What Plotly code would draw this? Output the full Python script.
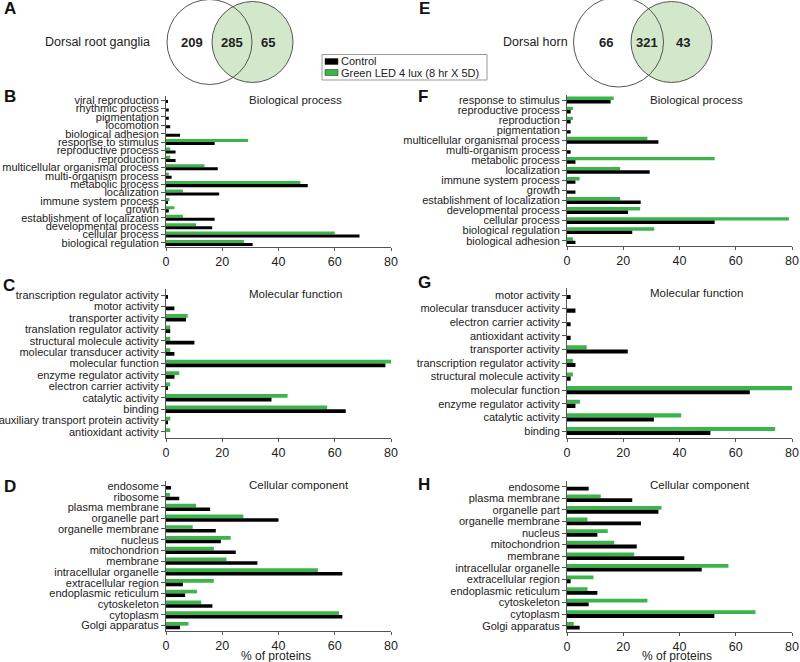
import plotly.graph_objects as go

# Размер картинки в пикселях
W, H = 800, 662

# Venn: только контроль, общие, только Green LED
drg_venn = [209, 285, 65]
dh_venn = [66, 321, 43]

series_names = ['Control', 'Green LED 4 lux (8 hr X 5D)']

# B - dorsal root ganglia, biological process (сверху вниз)
b_cats = ['viral reproduction', 'rhythmic process', 'pigmentation', 'locomotion',
          'biological adhesion', 'response to stimulus', 'reproductive process',
          'reproduction', 'multicellular organismal process', 'multi-organism process',
          'metabolic process', 'localization', 'immune system process', 'growth',
          'establishment of localization', 'developmental process', 'cellular process',
          'biological regulation']
b_control = [0.5, 1, 1, 1.5, 5, 17.3, 3.4, 3.4, 18.4, 2, 50.4, 18.9, 0.5, 1, 17.3, 16.4, 68.8, 30.8]
b_green = [0, 0, 0, 0, 0, 29.2, 1.5, 1.5, 13.7, 1, 47.8, 6, 1.2, 3, 6, 10.7, 60, 27.7]

# C - dorsal root ganglia, molecular function
c_cats = ['transcription regulator activity', 'motor activity', 'transporter activity',
          'translation regulator activity', 'structural molecule activity',
          'molecular transducer activity', 'molecular function', 'enzyme regulator activity',
          'electron carrier activity', 'catalytic activity', 'binding',
          'auxiliary transport protein activity', 'antioxidant activity']
c_control = [0.7, 3, 7.1, 1.5, 10.1, 3, 78, 3, 0.7, 37.5, 63.9, 0.4, 0]
c_green = [0, 0, 7.7, 1.5, 1.5, 1.5, 80, 4.7, 1.5, 43.2, 57.3, 1.5, 1.5]

# D - dorsal root ganglia, cellular component
d_cats = ['endosome', 'ribosome', 'plasma membrane', 'organelle part', 'organelle membrane',
          'nucleus', 'mitochondrion', 'membrane', 'intracellular organelle',
          'extracellular region', 'endoplasmic reticulum', 'cytoskeleton', 'cytoplasm',
          'Golgi apparatus']
d_control = [1.8, 4.7, 15.7, 40, 17.7, 19.5, 24.8, 32.5, 62.7, 6, 6.8, 16.5, 62.7, 5]
d_green = [0, 1.4, 10.7, 27.5, 9.5, 23, 17, 21.5, 54, 17, 11, 12.5, 61.5, 8]

# F - dorsal horn, biological process
f_cats = ['response to stimulus', 'reproductive process', 'reproduction', 'pigmentation',
          'multicellular organismal process', 'multi-organism process', 'metabolic process',
          'localization', 'immune system process', 'growth', 'establishment of localization',
          'developmental process', 'cellular process', 'biological regulation',
          'biological adhesion']
f_control = [15.5, 1.3, 1.3, 1.3, 32.5, 1.3, 3, 29.4, 3, 3, 26.2, 21.7, 52.5, 23.2, 3]
f_green = [16.6, 2.1, 2.1, 0, 28.6, 0, 52.5, 18.9, 4.5, 0, 18.9, 26, 78.9, 31, 2.1]

# G - dorsal horn, molecular function
g_cats = ['motor activity', 'molecular transducer activity', 'electron carrier activity',
          'antioxidant activity', 'transporter activity', 'transcription regulator activity',
          'structural molecule activity', 'molecular function', 'enzyme regulator activity',
          'catalytic activity', 'binding']
g_control = [1.3, 3, 1.3, 1.3, 21.6, 3, 1.3, 65, 3, 30.9, 51]
g_green = [0, 0, 0, 0, 7, 2.1, 2.1, 80, 4.6, 40.6, 74]

# H - dorsal horn, cellular component
h_cats = ['endosome', 'plasma membrane', 'organelle part', 'organelle membrane', 'nucleus',
          'mitochondrion', 'membrane', 'intracellular organelle', 'extracellular region',
          'endoplasmic reticulum', 'cytoskeleton', 'cytoplasm', 'Golgi apparatus']
h_control = [7.7, 23.2, 32.5, 26.3, 10.8, 24.8, 41.7, 47.9, 1.3, 10.8, 7.7, 52.4, 4.5]
h_green = [0, 12, 33.6, 7.3, 14.5, 16.8, 23.9, 57.4, 9.4, 7.3, 28.6, 67, 2.4]

x_ticks = [0, 20, 40, 60, 80]

GREEN = '#3BB54A'
BLACK = '#000000'
VENN_FILL = '#D3E8CB'
FONT = 'Liberation Sans, Arial, sans-serif'


def px(x):
    return x / W


def py(y):
    return 1 - y / H


# буква, заголовок, категории, контроль, green, x0, x1, верх, низ, ширина бара
panels = [
    ('B', 'Biological process', b_cats, b_control, b_green, 166, 391, 95.8, 247.2, 0.36),
    ('C', 'Molecular function', c_cats, c_control, c_green, 166, 391, 289.3, 437.7, 0.33),
    ('D', 'Cellular component', d_cats, d_control, d_green, 166, 391, 480.6, 631.0, 0.34),
    ('F', 'Biological process', f_cats, f_control, f_green, 567, 792, 95.0, 245.7, 0.34),
    ('G', 'Molecular function', g_cats, g_control, g_green, 567, 792, 288.2, 437.8, 0.3),
    ('H', 'Cellular component', h_cats, h_control, h_green, 567, 792, 480.9, 631.5, 0.33),
]

fig = go.Figure()
annotations = []
shapes = []
layout_axes = {}

for i, (letter, title, cats, ctrl, green, x0, x1, ytop, ybot, w) in enumerate(panels, start=1):
    xa = 'x' if i == 1 else f'x{i}'
    ya = 'y' if i == 1 else f'y{i}'
    # зелёный сверху, чёрный снизу (ось y перевёрнута)
    fig.add_trace(go.Bar(y=cats, x=green, orientation='h', xaxis=xa, yaxis=ya,
                         marker=dict(color=GREEN, line=dict(width=0)),
                         width=w, offset=-w, name=series_names[1], showlegend=False))
    fig.add_trace(go.Bar(y=cats, x=ctrl, orientation='h', xaxis=xa, yaxis=ya,
                         marker=dict(color=BLACK, line=dict(width=0)),
                         width=w, offset=0, name=series_names[0], showlegend=False))
    layout_axes['xaxis' if i == 1 else f'xaxis{i}'] = dict(
        domain=[px(x0), px(x1)], anchor=ya, range=[0, 80], tickmode='array',
        tickvals=x_ticks, ticks='outside', ticklen=3, tickcolor='#555', showline=True,
        linecolor='#555', linewidth=1, showgrid=False, zeroline=False, automargin=False,
        ticklabeloverflow='allow', tickfont=dict(size=12.5, color='#222', family=FONT))
    layout_axes['yaxis' if i == 1 else f'yaxis{i}'] = dict(
        domain=[py(ybot), py(ytop)], anchor=xa, type='category',
        categoryorder='array', categoryarray=cats, range=[len(cats) - 0.5, -0.5],
        tickmode='array', tickvals=cats, ticktext=cats,
        ticks='outside', ticklen=4, tickcolor='#555', showline=True, linecolor='#555',
        linewidth=1, showgrid=False, zeroline=False, automargin=False,
        ticklabeloverflow='allow', tickfont=dict(size=11, color='#222', family=FONT))
    # заголовок панели
    annotations.append(dict(text=title, x=px(x0 + 81), y=py(ytop + 4.5), xref='paper',
                            yref='paper', xanchor='left', yanchor='middle', showarrow=False,
                            font=dict(size=11.5, color='#222', family=FONT)))
    if letter in ('D', 'H'):
        annotations.append(dict(text='% of proteins', x=px(x0 + 110), y=py(655.5), xref='paper',
                                yref='paper', xanchor='center', yanchor='middle',
                                showarrow=False,
                                font=dict(size=12, color='#222', family=FONT)))

# буквы панелей
letters = [('A', 2, 8), ('E', 417, 8), ('B', 2, 96), ('F', 416, 96),
           ('C', 1, 285), ('G', 416, 283), ('D', 2, 486), ('H', 416, 485)]
for letter, lx, ly in letters:
    annotations.append(dict(text=f'<b>{letter}</b>', x=px(lx), y=py(ly), xref='paper',
                            yref='paper', xanchor='left', yanchor='middle', showarrow=False,
                            font=dict(size=17, color='#111', family=FONT)))

# диаграммы Венна
venns = [
    ('Dorsal root ganglia', drg_venn, (209.5, 42, 42.5), (252.5, 42, 40.5), 152,
     [192, 232, 268]),
    ('Dorsal horn', dh_venn, (618.5, 42, 45), (671.5, 42, 40.5), 570, [606, 647, 683]),
]
for label, counts, left, right, label_x, text_x in venns:
    cx, cy, r = right
    shapes.append(dict(type='circle', xref='paper', yref='paper',
                       x0=px(cx - r), x1=px(cx + r), y0=py(cy + r), y1=py(cy - r),
                       fillcolor=VENN_FILL, line=dict(color='#555', width=1)))
    cx, cy, r = left
    shapes.append(dict(type='circle', xref='paper', yref='paper',
                       x0=px(cx - r), x1=px(cx + r), y0=py(cy + r), y1=py(cy - r),
                       fillcolor='rgba(0,0,0,0)', line=dict(color='#555', width=1)))
    annotations.append(dict(text=label, x=px(label_x), y=py(42), xref='paper', yref='paper',
                            xanchor='right', yanchor='middle', showarrow=False,
                            font=dict(size=12.5, color='#222', family=FONT)))
    for n, tx in zip(counts, text_x):
        annotations.append(dict(text=f'<b>{n}</b>', x=px(tx), y=py(42), xref='paper',
                                yref='paper', xanchor='center', yanchor='middle',
                                showarrow=False, font=dict(size=13, color='#222', family=FONT)))

# легенда вручную
shapes.append(dict(type='rect', xref='paper', yref='paper', x0=px(322), x1=px(487),
                   y0=py(80), y1=py(54.5), line=dict(color='#999', width=1),
                   fillcolor='white'))
for name, color, ly in [(series_names[0], BLACK, 61.5), (series_names[1], GREEN, 72.5)]:
    shapes.append(dict(type='rect', xref='paper', yref='paper', x0=px(325), x1=px(338),
                       y0=py(ly + 3), y1=py(ly - 3), fillcolor=color,
                       line=dict(color='#222', width=0.5)))
    annotations.append(dict(text=name, x=px(338.5), y=py(ly), xref='paper', yref='paper',
                            xanchor='left', yanchor='middle', showarrow=False,
                            font=dict(size=11, color='#222', family=FONT)))

fig.update_layout(
    width=W, height=H, margin=dict(l=0, r=0, t=0, b=0),
    plot_bgcolor='white', paper_bgcolor='white', barmode='overlay',
    showlegend=False, annotations=annotations, shapes=shapes,
    font=dict(family=FONT, color='#222'),
    **layout_axes)

# убираем отступ body, чтобы график стоял в углу окна; без панели инструментов
fig.write_html('out.html', config={'displayModeBar': False},
               post_script="document.body.style.margin = '0';")
